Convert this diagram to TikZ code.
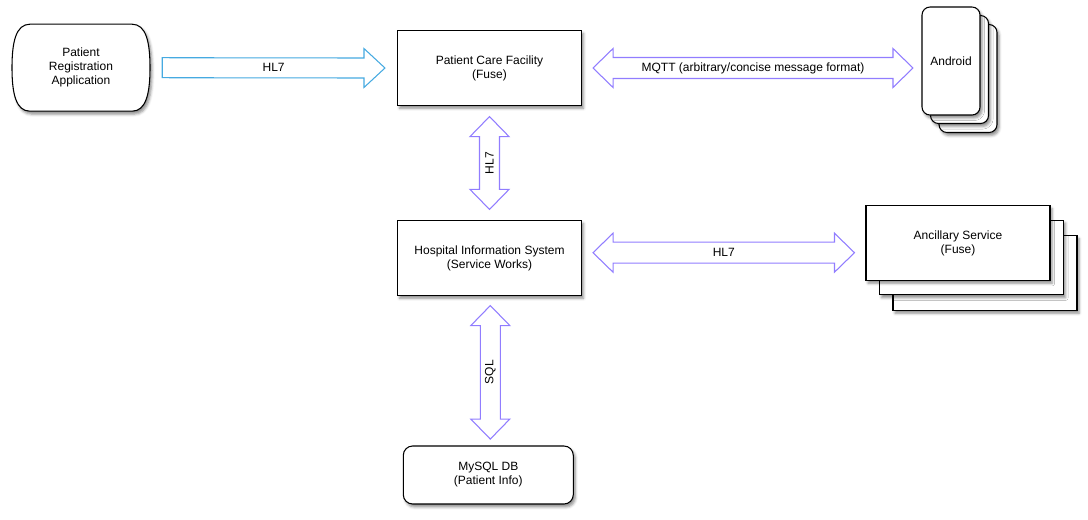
\documentclass[tikz,border=0pt]{standalone}
\usepackage{fontspec}
\setmainfont{Liberation Sans}
\usetikzlibrary{calc,shadows,shadows.blur}
\definecolor{parrow}{RGB}{145,125,255}
\definecolor{barrow}{RGB}{70,170,225}
\tikzset{
  x=0.75pt, y=-0.75pt,
  every node/.style={font=\fontsize{9}{10.5}\selectfont, align=center, inner sep=0pt},
  shad/.style={blur shadow={shadow xshift=1.5pt, shadow yshift=-2.2pt, shadow blur radius=2pt, shadow opacity=45}},
  box/.style={draw=black, line width=0.8pt, fill=white, shad},
  plainbox/.style={box, rectangle, minimum width=138pt, minimum height=56pt},
  phonebox/.style={box, rectangle, rounded corners=6pt, minimum width=43.5pt, minimum height=81pt},
  ancbox/.style={box, rectangle, minimum width=138pt, minimum height=56pt},
  dbbox/.style={box, rectangle, rounded corners=7pt, minimum width=127.5pt, minimum height=43.5pt},
  parr/.style={draw=parrow, line width=0.8pt, fill=white, line join=miter},
  barr/.style={draw=barrow, line width=0.8pt, fill=white, line join=miter},
  lbl/.style={},
}
\newcommand\hdouble[2]{%
  \draw[parr] (#1) -- ($(#1)+(20,-19.5)$) -- ($(#1)+(20,-10.5)$) -- ($(#2)+(-20,-10.5)$) -- ($(#2)+(-20,-19.5)$) -- (#2) -- ($(#2)+(-20,19.5)$) -- ($(#2)+(-20,10.5)$) -- ($(#1)+(20,10.5)$) -- ($(#1)+(20,19.5)$) -- cycle;}
\newcommand\vdouble[2]{%
  \draw[parr] (#1) -- ($(#1)+(19.5,20)$) -- ($(#1)+(10,20)$) -- ($(#2)+(10,-20)$) -- ($(#2)+(19.5,-20)$) -- (#2) -- ($(#2)+(-19.5,-20)$) -- ($(#2)+(-10,-20)$) -- ($(#1)+(-10,20)$) -- ($(#1)+(-19.5,20)$) -- cycle;}
\begin{document}
\begin{tikzpicture}
\useasboundingbox (0,0) rectangle (1088,519);

% Patient registration application (shape drawn around its centre)
\coordinate (regc) at (81,67.7);
\path[box] ($(regc)+(-51,-43.5)$) -- ($(regc)+(51,-43.5)$)
  .. controls ($(regc)+(65,-43.5)$) and ($(regc)+(69,-26)$) .. ($(regc)+(69,0)$)
  .. controls ($(regc)+(69,26)$) and ($(regc)+(65,43.5)$) .. ($(regc)+(51,43.5)$)
  -- ($(regc)+(-51,43.5)$)
  .. controls ($(regc)+(-65,43.5)$) and ($(regc)+(-69,26)$) .. ($(regc)+(-69,0)$)
  .. controls ($(regc)+(-69,-26)$) and ($(regc)+(-65,-43.5)$) .. cycle;
\node[minimum width=103.5pt, minimum height=65pt] (reg) at (regc) {Patient\\Registration\\Application};

% main boxes
\node[plainbox] (pcf) at (489.5,68) {Patient Care Facility\\(Fuse)};
\node[plainbox] (his) at (489.5,258) {Hospital Information System\\(Service Works)};
\node[dbbox] (db) at (488.3,475) {MySQL DB\\(Patient Info)};

% Android stack
\node[phonebox] (and3) at (968,78.5) {};
\node[phonebox] (and2) at (959.5,69.5) {};
\node[phonebox] (and1) at (951,61) {Android};

% Ancillary stack
\node[ancbox] (anc3) at (985,273) {};
\node[ancbox] (anc2) at (971.5,257.5) {};
\node[ancbox] (anc1) at (958,243) {Ancillary Service\\(Fuse)};

% blue single arrow
\coordinate (b1) at ($(reg.east)+(12,0)$);
\coordinate (b2) at ($(pcf.west)+(-12,0)$);
\draw[barr] ($(b1)+(0,-10)$) -- ($(b2)+(-21,-10)$) -- ($(b2)+(-21,-19.5)$) -- (b2) -- ($(b2)+(-21,19.5)$) -- ($(b2)+(-21,10)$) -- ($(b1)+(0,10)$) -- cycle;
\node[lbl] (lb) at ($(b1)!0.5!(b2)$) {HL7};

% MQTT arrow
\coordinate (m1) at ($(pcf.east)+(11,0)$);
\coordinate (m2) at ($(pcf.east -| and1.west)+(-8.5,0)$);
\hdouble{m1}{m2}
\node[lbl] (lm) at ($(m1)!0.5!(m2)$) {MQTT (arbitrary/concise message format)};

% vertical HL7
\coordinate (v1) at ($(pcf.south)+(0,10.7)$);
\coordinate (v2) at ($(his.north)+(0,-10.7)$);
\vdouble{v1}{v2}
\node[lbl, rotate=90] (lv) at ($(v1)!0.5!(v2)$) {HL7};

% lower HL7
\coordinate (h1) at ($(his.east)+(11,-5.3)$);
\coordinate (h2) at ($(his.east -| anc1.west)+(-11,-5.3)$);
\hdouble{h1}{h2}
\node[lbl] (lh) at ($(h1)!0.5!(h2)$) {HL7};

% SQL
\coordinate (s1) at ($(his.south)+(0.8,9.7)$);
\coordinate (s2) at ($(his.south |- db.north)+(0.8,-6.4)$);
\vdouble{s1}{s2}
\node[lbl, rotate=90] (ls) at ($(s1)!0.5!(s2)$) {SQL};
\end{tikzpicture}
\end{document}
